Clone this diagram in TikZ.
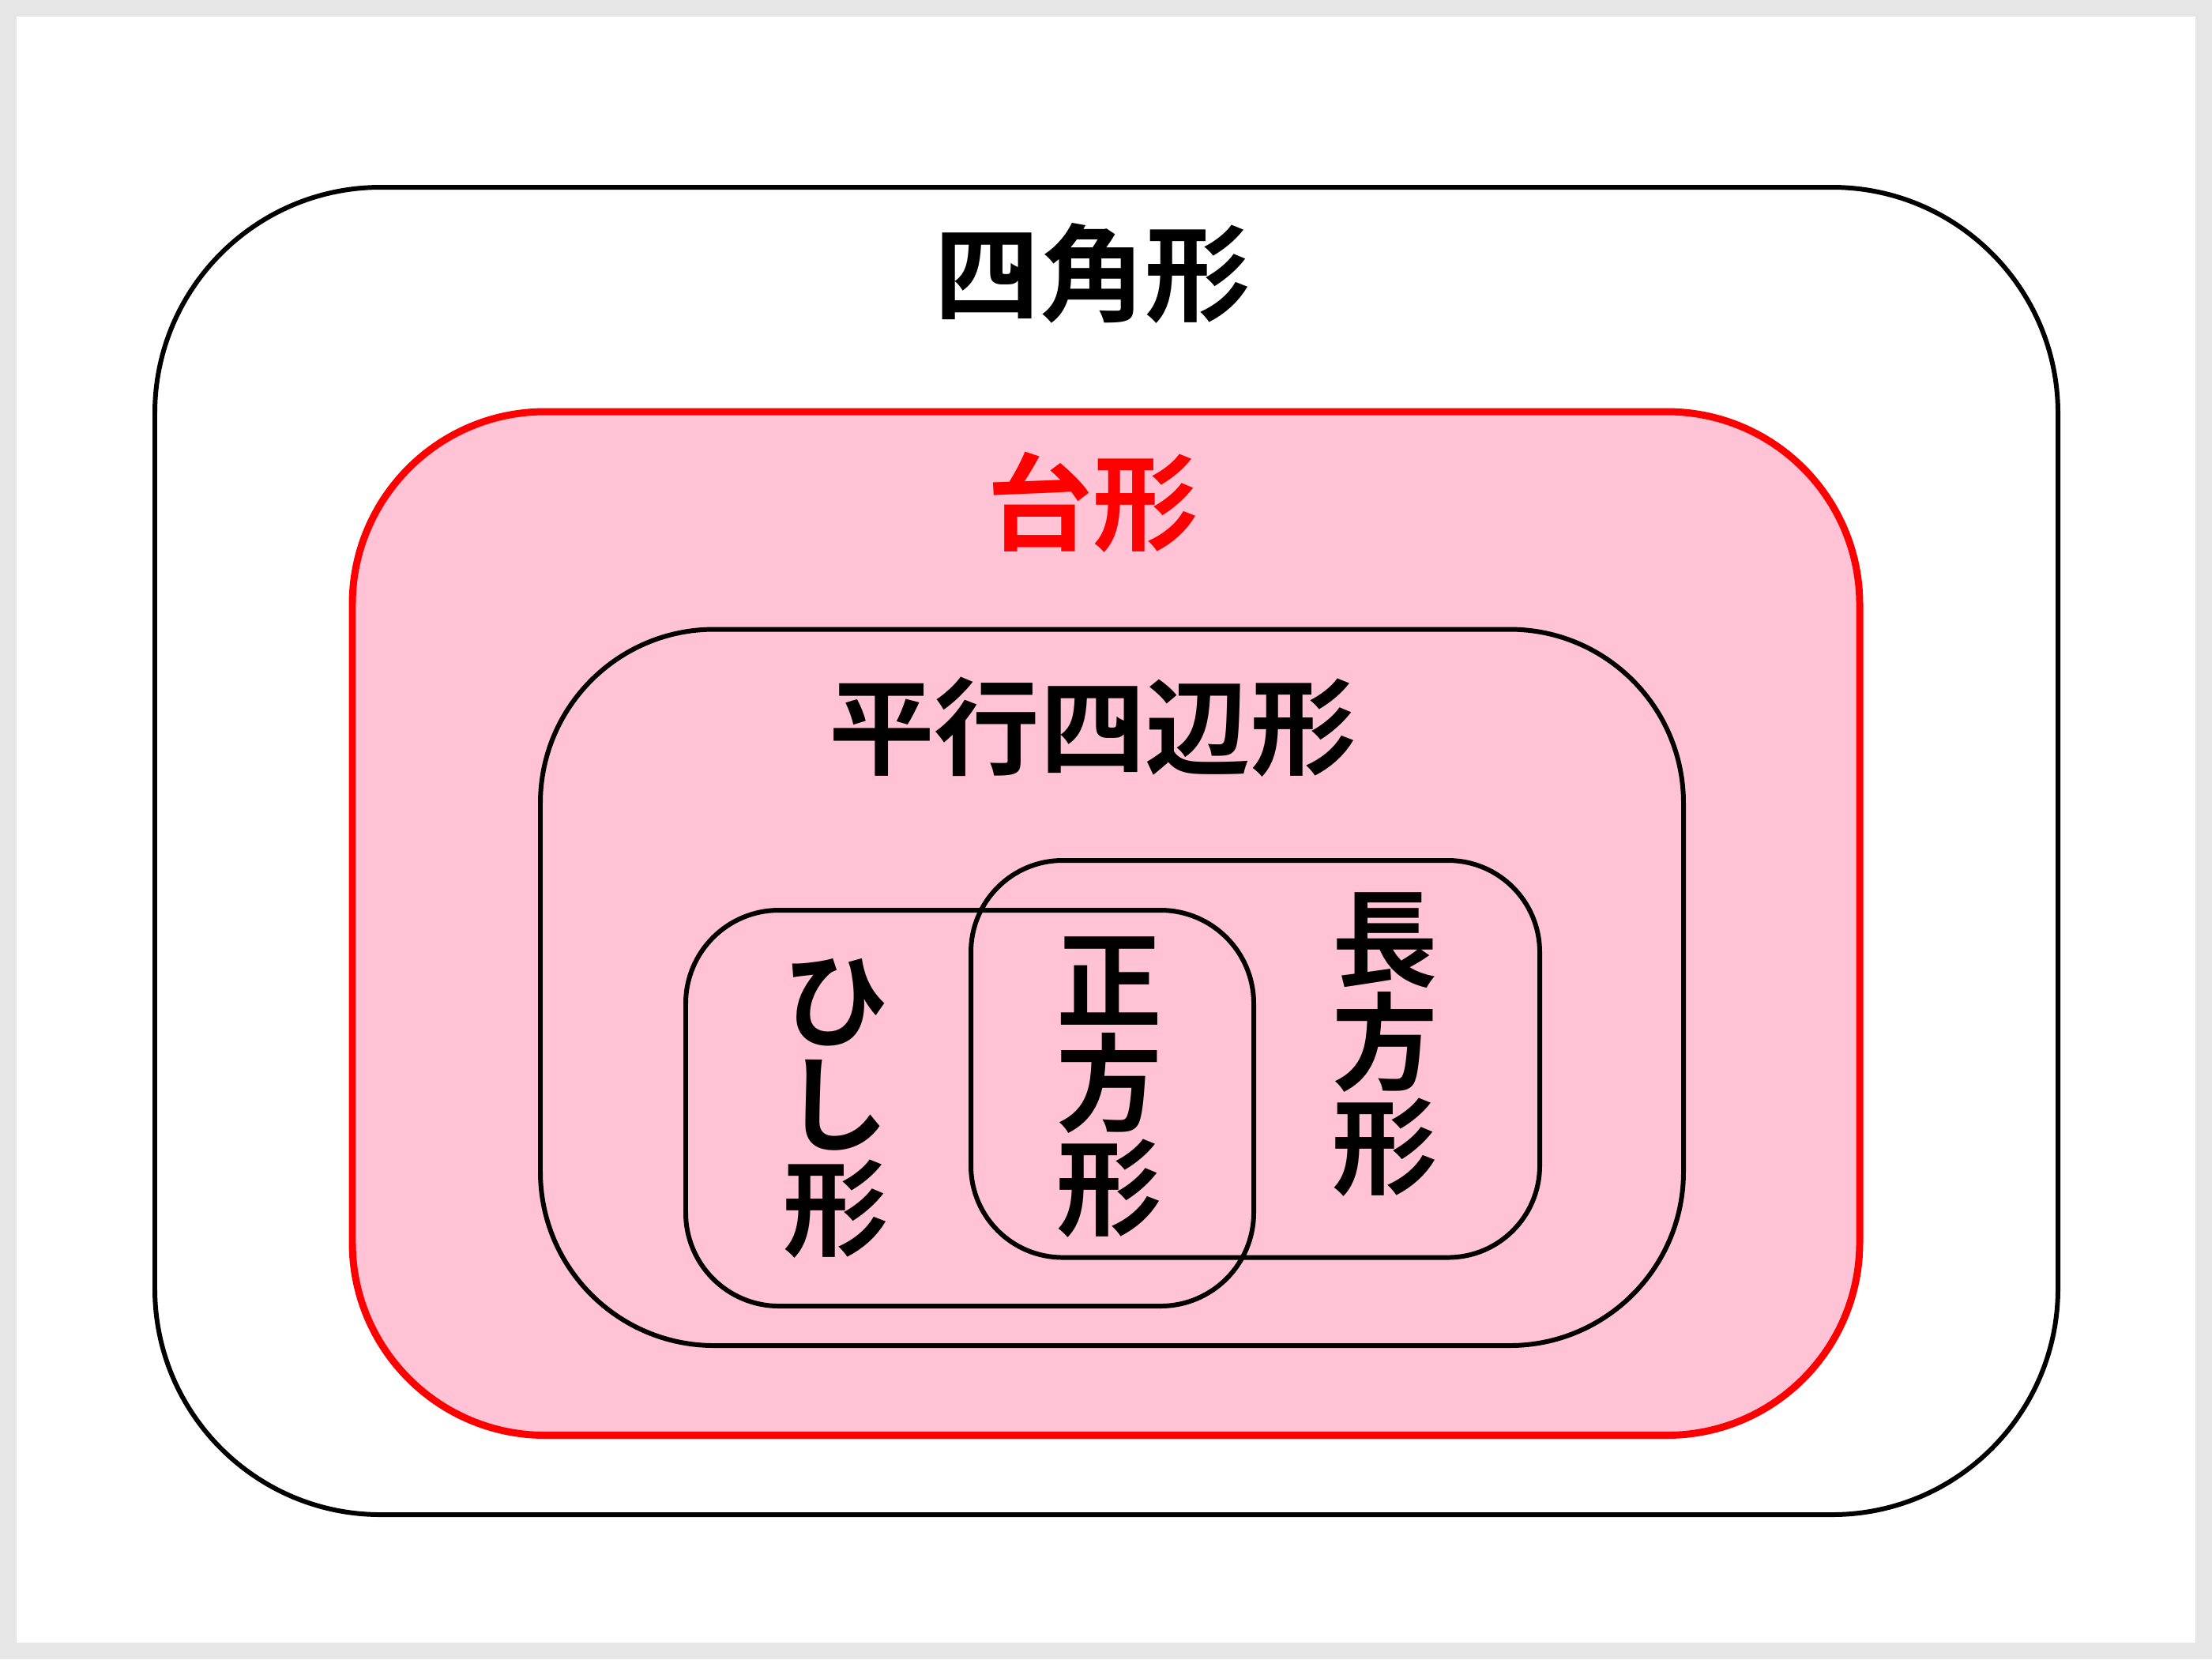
\documentclass[tikz,border=0pt]{standalone}
\usepackage{fontspec}
\newfontfamily\jp{Noto Sans CJK JP Bold}
\usepackage{xcolor}
\definecolor{trapfill}{RGB}{255,195,213}
\definecolor{framegray}{RGB}{230,230,230}

\begin{document}
\begin{tikzpicture}[x=1cm,y=-1cm,
    setbox/.style={draw=black,line width=1.7pt},
    lbl/.style={font=\jp\fontsize{38pt}{37.5pt}\selectfont,inner sep=0pt,align=center}]
        % frame
        \fill[framegray] (0,0) rectangle (28,21);
        \fill[white] (0.21,0.21) rectangle (27.79,20.79);
        % sets
        \draw[setbox,rounded corners=2.86cm] (1.96,2.37) rectangle (26.05,19.17);
        \draw[draw=red,fill=trapfill,line width=2.55pt,rounded corners=2.44cm] (4.46,5.21) rectangle (23.54,18.165);
        \draw[setbox,rounded corners=2.2cm] (6.84,7.965) rectangle (21.31,17.03);
        \draw[setbox,rounded corners=1.18cm] (8.68,11.52) rectangle (15.87,16.53);
        \draw[setbox,rounded corners=1.16cm] (12.29,10.89) rectangle (19.49,15.915);
        % labels
        \node[lbl] (quad) at (13.83,3.46) {四角形};
        \node[lbl,text=red] (trap) at (13.83,6.36) {台形};
        \node[lbl] (para) at (13.83,9.20) {平行四辺形};
        \node[lbl] (rhom) at (10.58,14.03) {ひ\\し\\形};
        \node[lbl] (squa) at (14.04,13.76) {正\\方\\形};
        \node[lbl] (rect) at (17.53,13.22) {長\\方\\形};
\end{tikzpicture}
\end{document}
